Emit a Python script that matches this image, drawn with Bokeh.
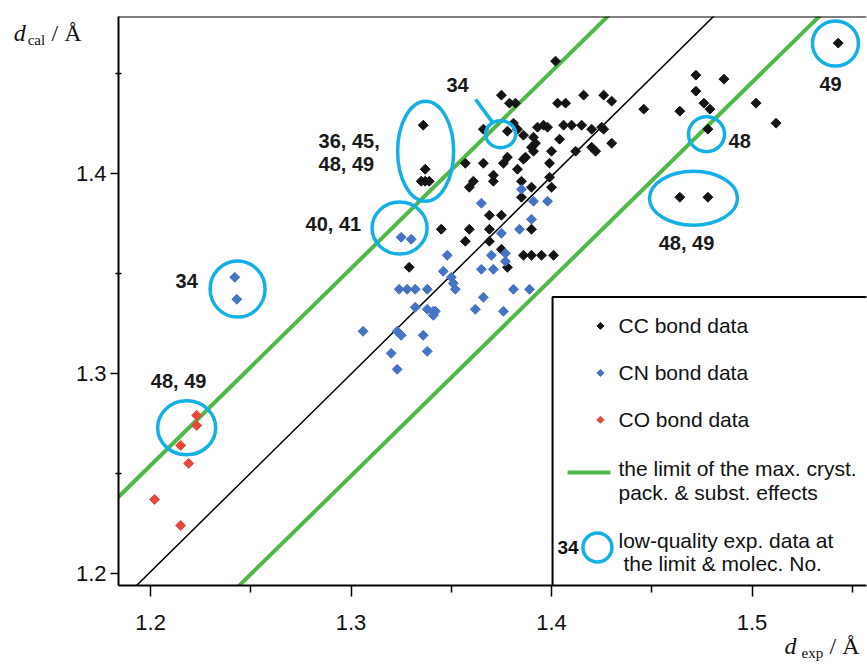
import numpy as np
from bokeh.plotting import figure
from bokeh.models import Range1d, FixedTicker, Span, Label, ColumnDataSource
from bokeh.core.properties import value
from bokeh.embed import file_html
from bokeh.resources import INLINE

# ---------------- data ----------------
cc_x = [1.402, 1.375, 1.379, 1.382, 1.403, 1.407, 1.416, 1.426, 1.430, 1.446,
        1.464, 1.472, 1.486, 1.472, 1.476, 1.479, 1.478, 1.502, 1.512, 1.543,
        1.464, 1.478, 1.336, 1.337, 1.335, 1.337, 1.339, 1.366, 1.378, 1.381,
        1.383, 1.393, 1.396, 1.398, 1.406, 1.410, 1.415, 1.420, 1.425, 1.426,
        1.386, 1.391, 1.404, 1.390, 1.392, 1.391, 1.400, 1.412, 1.420, 1.422,
        1.430, 1.387, 1.386, 1.378, 1.376, 1.366, 1.357, 1.399, 1.383, 1.371,
        1.371, 1.361, 1.359, 1.385, 1.390, 1.399, 1.400, 1.385, 1.369, 1.375,
        1.345, 1.359, 1.369, 1.390, 1.357, 1.369, 1.375, 1.386, 1.390, 1.395,
        1.401, 1.329, 1.378]
cc_y = [1.456, 1.439, 1.435, 1.435, 1.435, 1.435, 1.439, 1.439, 1.436, 1.432,
        1.431, 1.449, 1.447, 1.441, 1.435, 1.432, 1.422, 1.435, 1.425, 1.465,
        1.388, 1.388, 1.424, 1.402, 1.396, 1.396, 1.396, 1.422, 1.421, 1.425,
        1.422, 1.423, 1.424, 1.423, 1.424, 1.424, 1.424, 1.422, 1.423, 1.422,
        1.419, 1.418, 1.417, 1.413, 1.415, 1.411, 1.411, 1.411, 1.413, 1.411,
        1.415, 1.408, 1.407, 1.408, 1.405, 1.405, 1.405, 1.405, 1.402, 1.399,
        1.396, 1.396, 1.393, 1.396, 1.393, 1.398, 1.393, 1.388, 1.379, 1.379,
        1.372, 1.372, 1.372, 1.372, 1.366, 1.366, 1.362, 1.359, 1.359, 1.359,
        1.359, 1.353, 1.353]

cn_x = [1.242, 1.243, 1.325, 1.330, 1.385, 1.365, 1.391, 1.398, 1.390, 1.384,
        1.375, 1.348, 1.370, 1.377, 1.377, 1.365, 1.371, 1.346, 1.350, 1.351,
        1.352, 1.324, 1.328, 1.332, 1.338, 1.381, 1.389, 1.366, 1.332, 1.338,
        1.341, 1.342, 1.341, 1.362, 1.376, 1.306, 1.323, 1.325, 1.336, 1.320,
        1.338, 1.323]
cn_y = [1.348, 1.337, 1.368, 1.367, 1.392, 1.385, 1.386, 1.386, 1.377, 1.372,
        1.370, 1.359, 1.359, 1.360, 1.356, 1.352, 1.352, 1.351, 1.348, 1.345,
        1.342, 1.342, 1.342, 1.342, 1.342, 1.342, 1.342, 1.338, 1.333, 1.332,
        1.331, 1.331, 1.329, 1.332, 1.331, 1.321, 1.321, 1.319, 1.319, 1.310,
        1.311, 1.302]

co_x = [1.223, 1.223, 1.215, 1.219, 1.202, 1.215]
co_y = [1.279, 1.274, 1.264, 1.255, 1.237, 1.224]

# reference lines: (gradient, intercept)
ideal_line = (0.988, 0.0153)
limit_upper = (0.984, 0.0732)
limit_lower = (0.983, -0.0291)

# circled low-quality data (centre x, centre y, width px, height px)
circ_x = [1.2434, 1.218, 1.3242, 1.3372, 1.3746, 1.4773, 1.4708, 1.5416]
circ_y = [1.3421, 1.2728, 1.3726, 1.411, 1.4195, 1.4195, 1.3875, 1.4648]
circ_w = [55, 58, 55, 56, 30, 36, 88, 46]
circ_h = [56, 54, 52, 100, 27, 35, 54, 45]

# molecule-number labels
mol_text = ["34", "48, 49", "36, 45,", "48, 49", "40, 41", "34", "48", "49", "48, 49"]
mol_x = [1.218, 1.214, 1.2838, 1.2838, 1.2773, 1.3531, 1.4883, 1.5392, 1.4673]
mol_y = [1.346, 1.2963, 1.416, 1.4045, 1.3746, 1.4439, 1.416, 1.4444, 1.3651]
mol_align = ["center", "center", "left", "left", "left", "center", "left", "center", "center"]
pointer_x = [1.3621, 1.3706]
pointer_y = [1.4369, 1.4254]

x_ticks = [1.2, 1.3, 1.4, 1.5]
x_minor = [1.25, 1.35, 1.45, 1.55]
y_ticks = [1.2, 1.3, 1.4]
y_minor = [1.25, 1.35, 1.45]

BLACK = "#141414"
BLUE = "#4673c4"
RED = "#e8453c"
GREEN = "#50b848"
CYAN = "#14afe6"
SANS = "Liberation Sans"
SERIF = "Liberation Serif"

p = figure(width=867, height=667, output_backend="svg", toolbar_location=None,
           x_range=Range1d(1.184, 1.5571), y_range=Range1d(1.194, 1.4783),
           min_border_left=118, min_border_right=1, min_border_top=15,
           min_border_bottom=82)
p.xgrid.visible = False
p.ygrid.visible = False
p.outline_line_color = None
p.background_fill_color = "white"
p.border_fill_color = "white"

for ax in (p.xaxis, p.yaxis):
    ax.axis_line_width = 2
    ax.axis_line_color = "black"
    ax.major_tick_line_color = "black"
    ax.minor_tick_line_color = "black"
    ax.major_tick_line_width = 1.5
    ax.minor_tick_line_width = 1.5
    ax.major_label_text_font = SANS
    ax.major_label_text_font_size = "22px"
    ax.major_label_text_color = "#111111"
    ax.major_tick_in = 0

p.xaxis.ticker = FixedTicker(ticks=x_ticks, minor_ticks=x_minor)
p.yaxis.ticker = FixedTicker(ticks=y_ticks, minor_ticks=y_minor)
p.xaxis.major_tick_out = 11
p.xaxis.minor_tick_out = 7
p.xaxis.minor_tick_in = 0
p.xaxis.major_label_standoff = 18
p.yaxis.major_tick_out = 8
p.yaxis.minor_tick_out = 3
p.yaxis.minor_tick_in = 3
p.yaxis.major_label_standoff = 4

p.add_layout(Span(location=1.4783, dimension="width", line_color="black", line_width=2))

# reference lines
xs = np.array([1.10, 1.60])
for (g, b), col, w in [(ideal_line, "black", 1.5), (limit_upper, GREEN, 4), (limit_lower, GREEN, 4)]:
    p.line(xs, g * xs + b, line_color=col, line_width=w)

# data
def star(x, y, color, size=7):
    p.scatter(x, y, marker="square", angle=np.pi / 4, size=size,
              fill_color=color, line_color=color, line_width=1)

star(cc_x, cc_y, BLACK)
star(cn_x, cn_y, BLUE)
star(co_x, co_y, RED)

# circles
csrc = ColumnDataSource(dict(x=circ_x, y=circ_y, w=circ_w, h=circ_h))
p.ellipse(x="x", y="y", width="w", height="h", width_units="screen", height_units="screen",
          source=csrc, fill_color=None, line_color=CYAN, line_width=3.5)
p.line(pointer_x, pointer_y, line_color=CYAN, line_width=3.5)

for t, x, y, a in zip(mol_text, mol_x, mol_y, mol_align):
    p.text([x], [y], text=[t], text_font=value(SANS), text_font_style="bold",
           text_font_size="20px", text_align=a, text_baseline="middle", text_color="#1a1a1a")

# legend box
p.quad(left=[1.4005], right=[1.60], bottom=[1.18], top=[1.3382],
       fill_color="white", line_color="black", line_width=2)
leg_y = [1.3237, 1.3002, 1.2768]
leg_txt = ["CC bond data", "CN bond data", "CO bond data"]
for yy, col in zip(leg_y, [BLACK, BLUE, RED]):
    star([1.4244], [yy], col, size=5)
p.text([1.4334] * 3, leg_y, text=leg_txt, text_font=value(SANS), text_font_size="21px",
       text_baseline="middle", text_color="#111111")
p.line([1.408, 1.4294], [1.2504, 1.2504], line_color=GREEN, line_width=4)
p.text([1.4334, 1.4334], [1.2524, 1.2404],
       text=["the limit of the max. cryst.", "pack. & subst. effects"],
       text_font=value(SANS), text_font_size="21px", text_baseline="middle", text_color="#111111")
p.ellipse([1.4229], [1.213], width=29, height=29, width_units="screen", height_units="screen",
          fill_color=None, line_color=CYAN, line_width=3.5)
p.text([1.4135], [1.213], text=["34"], text_font=value(SANS), text_font_style="bold",
       text_font_size="19px", text_align="right", text_baseline="middle", text_color="#111111")
p.text([1.4334, 1.4359], [1.2165, 1.205],
       text=["low-quality exp. data at", "the limit & molec. No."],
       text_font=value(SANS), text_font_size="21px", text_baseline="middle", text_color="#111111")

# axis titles: placed in side panels (so they are not clipped to the frame);
# positions are given in data units, so the panel only affects layout space
def lab(x, y, t, size, side, style="normal"):
    p.add_layout(Label(x=x, y=y, text=t, text_font=SERIF, text_font_size=size,
                       text_font_style=style, text_baseline="alphabetic",
                       text_color="#111111"), side)

lab(1.1317, 1.4703, "d", "24px", "left", "italic")
lab(1.1387, 1.4668, "cal", "15px", "left")
lab(1.1506, 1.4703, "/ Å", "24px", "left")
lab(1.5162, 1.1636, "d", "24px", "left", "italic")
lab(1.5247, 1.1601, "exp", "15px", "above")
lab(1.5387, 1.1636, "/ Å", "24px", "below")

open("out.html", "w").write(file_html(p, INLINE))
